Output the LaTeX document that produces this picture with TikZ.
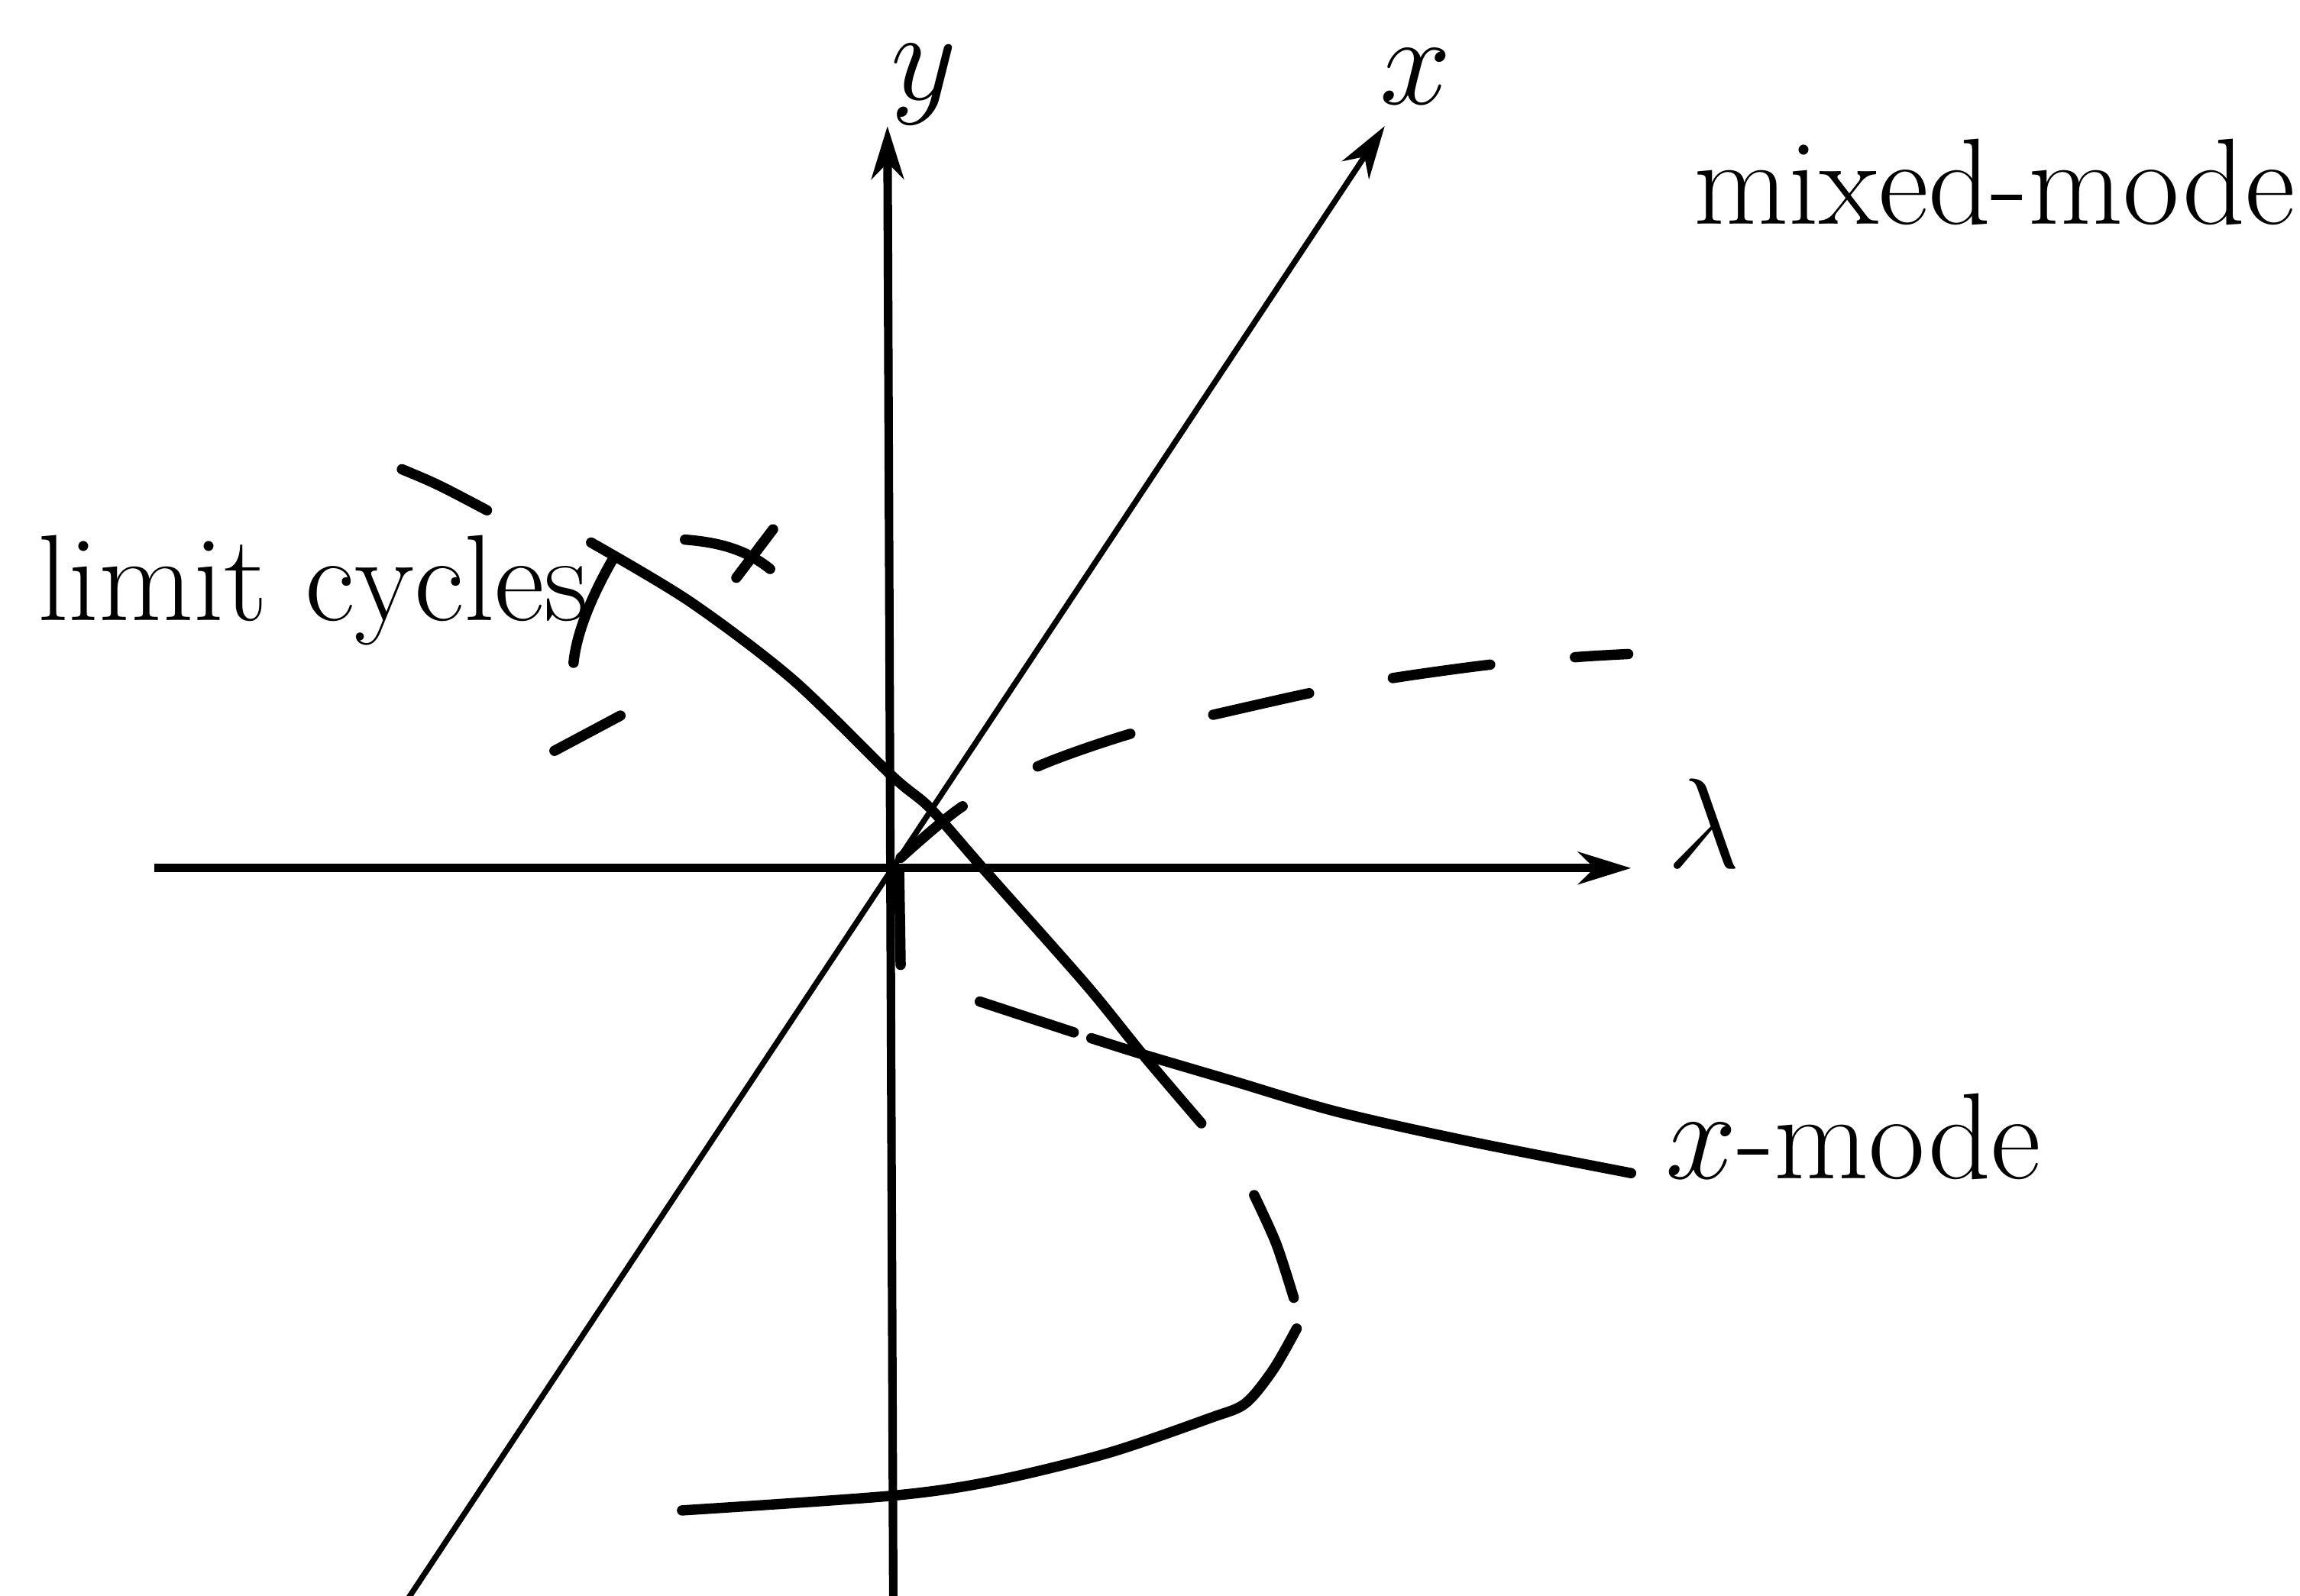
\documentclass[tikz,border=0pt]{standalone}
\usepackage{amsmath}
\usetikzlibrary{arrows.meta}

\begin{document}
\begin{tikzpicture}[
  font=\fontsize{23.8}{28}\selectfont,
  axis/.style={line width=1.65pt, -{Stealth[length=3.6mm, width=2.2mm, inset=1.1mm]}},
  branch/.style={line width=2pt, line cap=round},
  unstable/.style={branch, dash pattern=on 6.7mm off 5.8mm, dash phase=1.2mm},
  lbl/.style={inner sep=0pt, anchor=base west},
  axlbl/.style={inner sep=0pt, anchor=base}]
\useasboundingbox (-6.08,-4.96) rectangle (9.60,5.92);
\coordinate (O) at (0,0);
\coordinate (lamL) at (-5.03,0);
\coordinate (lamR) at (5.04,0);
\coordinate (yB) at (0.01,-5.00);
\coordinate (yT) at (-0.03,5.06);
\coordinate (xB) at (-3.31,-5.00);
\coordinate (xT) at (3.36,5.06);
\draw[axis] (lamL) -- (lamR);
\draw[axis] (yB) -- (yT);
\draw[axis, line width=1.1pt] (xB) -- (xT);
\node[axlbl] (ylab) at (0.22,5.24) {$y$};
\node[axlbl] (xlab) at (3.57,5.21) {$x$};
\node[lbl] (lamlab) at (5.28,0) {$\lambda$};
\node[lbl] (mixed) at (5.46,4.39) {mixed-mode};
\node[lbl] (limcyc) at (-5.83,1.69) {limit cycles};
\node[lbl] (xmode) at (5.27,-2.12) {$x$-mode};
% branch through the origin
\draw[branch] plot[smooth] coordinates {(-2.05,2.22) (-1.38,1.82) (-0.68,1.29) (0,0.63)
  (0.26,0.41) (0.62,0) (1.32,-0.79) (1.71,-1.27) (2.11,-1.74)};
\draw[branch] plot[smooth] coordinates {(2.47,-2.23) (2.62,-2.56) (2.74,-2.93)};
\draw[branch] plot[smooth] coordinates {(2.76,-3.14) (2.60,-3.42) (2.41,-3.65) (2.17,-3.75)
  (1.47,-3.99) (0.69,-4.18) (0,-4.28) (-1.43,-4.38)};
% x-mode
\draw[branch] (0.05,-0.03) -- (0.06,-0.66);
\draw[branch] (0.60,-0.91) -- (1.24,-1.12);
\draw[branch] plot[smooth] coordinates {(1.36,-1.16) (1.71,-1.27) (2.32,-1.45) (3.03,-1.66)
  (3.92,-1.86) (5.04,-2.08)};
% mixed-mode
\draw[unstable] plot[smooth] coordinates {(0.06,0.07) (0.48,0.42) (1.01,0.70) (1.64,0.92)
  (2.21,1.05) (2.88,1.20) (3.44,1.30) (4.10,1.39) (4.68,1.44) (5.02,1.46)};
% limit cycles
\draw[branch] (-3.34,2.72) .. controls (-3.10,2.62) .. (-2.76,2.44);
\draw[branch] (-1.90,2.11) .. controls (-2.05,1.85) and (-2.15,1.60) .. (-2.17,1.40);
\draw[branch] (-2.30,0.80) -- (-1.85,1.04);
\draw[branch] (-1.41,2.24) .. controls (-1.15,2.22) and (-0.98,2.16) .. (-0.83,2.04);
\draw[branch] (-1.06,1.98) -- (-0.81,2.31);
\end{tikzpicture}
\end{document}
